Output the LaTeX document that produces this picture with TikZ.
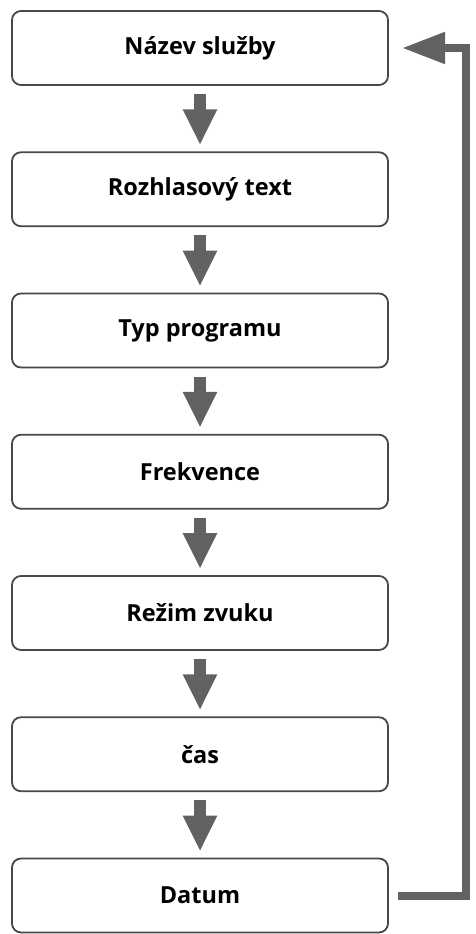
\documentclass[tikz,border=0pt]{standalone}
\usepackage{fontspec}
\setmainfont{Open Sans}
\usetikzlibrary{arrows.meta}
\definecolor{flowGray}{RGB}{98,98,98}
\definecolor{boxGray}{RGB}{72,72,72}

\begin{document}
\begin{tikzpicture}[x=1pt,y=-1pt,
    stepbox/.style={draw=boxGray,line width=1.8pt,rounded corners=9pt,fill=white,
      minimum width=376pt,minimum height=74pt,outer sep=0pt,
      font=\fontsize{23.5}{26}\selectfont\bfseries},
    flow/.style={draw=flowGray,line width=12pt,-{Triangle[length=36pt,width=32pt]},
      shorten <=9pt,shorten >=7pt},
    loopback/.style={draw=flowGray,line width=8pt,-{Triangle[length=43pt,width=30pt]},
      shorten <=10pt,shorten >=14pt,line join=miter}]
    \useasboundingbox (0,0) rectangle (476,934);
    % steps of the menu
    \foreach \i/\lab in {1/Název služby,2/Rozhlasový text,3/Typ programu,4/Frekvence,
      5/Režim zvuku,6/čas,7/Datum}{
      \node[stepbox] (s\i) at (200,{48+141.25*(\i-1)}) {\lab};
    }
    \foreach \i/\j in {1/2,2/3,3/4,4/5,5/6,6/7}{
      \draw[flow] (s\i.south) -- (s\j.north);
    }
    % back to the top
    \draw[loopback] (s7.east) -- ++(78,0) |- (s1.east);
\end{tikzpicture}
\end{document}
